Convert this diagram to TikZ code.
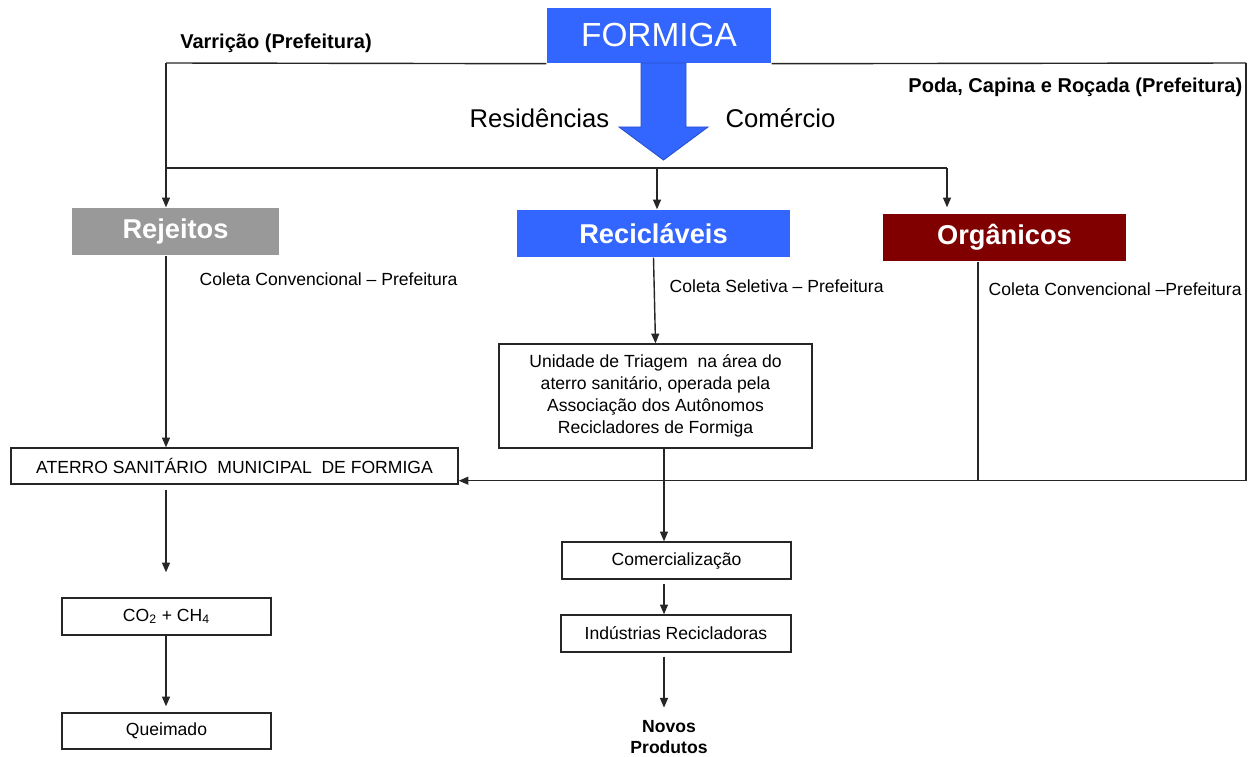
\documentclass[tikz,border=0pt]{standalone}
\usepackage{fontspec}
\setmainfont{Liberation Sans}
\usepackage{xcolor}
\usetikzlibrary{arrows.meta}
\usetikzlibrary{positioning}

\definecolor{azulF}{RGB}{51,102,255}
\definecolor{cinzaR}{RGB}{153,153,153}
\definecolor{vinhoO}{RGB}{128,0,0}

\begin{document}
\begin{tikzpicture}[x=0.02cm, y=-0.02cm, line width=0.8pt,
        seta/.style={draw=black!85, -{Triangle[length=5.5pt, width=4.5pt]}},
        linha/.style={draw=black!85},
        caixa/.style={draw=black!85, fill=white, inner sep=0pt, align=center, font=\fontsize{10}{12.5}\selectfont},
        titulo/.style={inner sep=0pt, text=white, minimum height=0.94cm, font=\bfseries\fontsize{15.5}{18}\selectfont},
        rotulo/.style={inner sep=0pt, font=\fontsize{10}{12}\selectfont},
        rotulob/.style={inner sep=0pt, font=\bfseries\fontsize{11.4}{13}\selectfont}]

            \useasboundingbox (0,0) rectangle (1251,757);

            % colunas das setas
            \coordinate (colL) at (166,63);
            \coordinate (colM) at (657,168);
            \coordinate (colO) at (947,168);
            \coordinate (colOb) at (978,0);
            \coordinate (colR) at (664,0);
            \coordinate (colD) at (1246,63);

            \node[fill=azulF, text=white, inner sep=0pt, minimum width=4.48cm, minimum height=1.1cm,
                font=\fontsize{19}{22}\selectfont](formiga) at (659,35.5){FORMIGA};

            \node[titulo, fill=cinzaR, minimum width=4.14cm](rejeitos) at (175.5,231.5){Rejeitos};
            \node[titulo, fill=azulF, minimum width=5.46cm](reciclaveis) at (653.5,233.5){Recicláveis};
            \node[titulo, fill=vinhoO, minimum width=4.86cm](organicos) at (1004.5,237.5){Orgânicos};

            \node[caixa, minimum width=6.26cm, minimum height=2.08cm](unidade) at (655.5,396)
                {Unidade de Triagem\ \ na área do\\aterro sanitário, operada pela\\Associação dos Autônomos\\Recicladores de Formiga};
            \node[caixa, minimum width=8.94cm, minimum height=0.72cm](aterro) at (234.5,466)
                {ATERRO SANITÁRIO\ \ MUNICIPAL\ \ DE FORMIGA};
            \node[caixa, minimum width=4.18cm, minimum height=0.74cm](co2) at (166.5,616.5)
                {CO\textsubscript{2} + CH\textsubscript{4}};
            \node[caixa, minimum width=4.18cm, minimum height=0.72cm](queimado) at (166.5,731){Queimado};
            \node[caixa, minimum width=4.58cm, minimum height=0.74cm](comerc) at (676.5,560.5){Comercialização};
            \node[caixa, minimum width=4.60cm, minimum height=0.74cm](industrias) at (676,633.5){Indústrias Recicladoras};
            \node[inner sep=0pt, align=center, font=\bfseries\fontsize{10}{12}\selectfont](novos) at (669,737){Novos\\Produtos};

            % textos soltos
            \node[rotulob](varricao) at (276,43){Varrição (Prefeitura)};
            \node[rotulob, anchor=east](poda) at (1243,87){Poda, Capina e Roçada (Prefeitura)};
            \node[inner sep=0pt, anchor=east, font=\fontsize{14.6}{17}\selectfont](residencias) at (610,118){Residências};
            \node[inner sep=0pt, anchor=west, font=\fontsize{14.6}{17}\selectfont](comercio) at (725,118){Comércio};
            \node[rotulo, anchor=west](coletaR) at (199,279){Coleta Convencional -- Prefeitura};
            \node[rotulo, anchor=west](coletaS) at (669,286){Coleta Seletiva -- Prefeitura};
            \node[rotulo, anchor=west](coletaO) at (988,289){Coleta Convencional --Prefeitura};

            % seta grande
            \filldraw[fill=azulF, draw=azulF!80!black, line width=0.5pt]
                (641,63)--(641,127)--(619,127)--(663.5,160)--(708,127)--(686,127)--(686,63)--cycle;

            % linhas de cima
            \draw[linha](colL)--(formiga.south west);
            \draw[linha](formiga.south east)--(colD);
            \draw[seta](colL)--(colL |- rejeitos.north);
            \draw[linha](colL |- colM)--(colO);
            \draw[seta](colM)--(colM |- reciclaveis.north);
            \draw[seta, shorten >=0.12cm](colO)--(colO |- organicos.north);
            \draw[seta](colD)|-([yshift=0.08cm]aterro.south east);
            \draw[linha](organicos.south -| colOb)--([yshift=0.08cm]aterro.south east -| colOb);

            % coluna esquerda
            \draw[seta](rejeitos.south -| colL)--(aterro.north -| colL);
            \draw[seta, shorten <=0.1cm, shorten >=0.5cm](aterro.south -| colL)--(co2.north -| colL);
            \draw[seta, shorten >=0.12cm](co2.south -| colL)--(queimado.north -| colL);

            % coluna do meio
            \draw[seta](reciclaveis.south)--(unidade.north);
            \draw[seta](unidade.south -| colR)--(comerc.north -| colR);
            \draw[seta, shorten <=0.08cm](comerc.south -| colR)--(industrias.north -| colR);
            \draw[seta, shorten <=0.08cm, shorten >=0.24cm](industrias.south -| colR)--(novos.north -| colR);

        \end{tikzpicture}
\end{document}
